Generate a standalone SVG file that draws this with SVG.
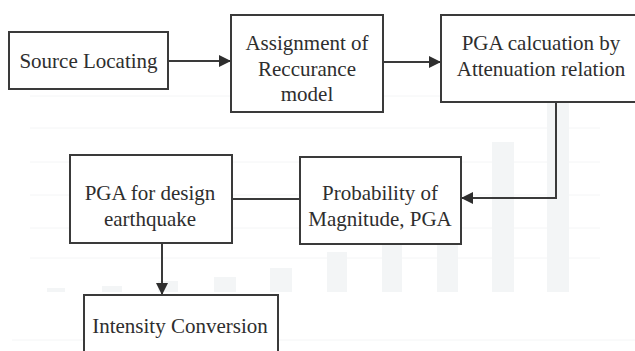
<svg xmlns="http://www.w3.org/2000/svg" width="635" height="351" viewBox="0 0 635 351">
<style>
.box{fill:#ffffff;stroke:#3a3a3a;stroke-width:2}
.t{font-size:21px;fill:#2e2e2e;text-anchor:middle}
.ln{fill:none;stroke:#3a3a3a;stroke-width:2}
.bar{fill:#f3f5f6}
.grid{stroke:#f4f5f6;stroke-width:1}
</style>
<defs>
<marker id="ah2" viewBox="0 0 12 12" refX="12" refY="6" markerWidth="12" markerHeight="12" orient="auto" markerUnits="userSpaceOnUse">
<path d="M0,0 L12,6 L0,12 Z" fill="#2e2e2e"/>
</marker>
</defs>
<rect width="635" height="351" fill="#ffffff"/>
<g id="background">
<line class="grid" x1="30" y1="96" x2="600" y2="96"/>
<line class="grid" x1="30" y1="128" x2="600" y2="128"/>
<line class="grid" x1="30" y1="162" x2="600" y2="162"/>
<line class="grid" x1="30" y1="195" x2="600" y2="195"/>
<line class="grid" x1="30" y1="228" x2="600" y2="228"/>
<line class="grid" x1="30" y1="258" x2="600" y2="258"/>
<line class="grid" x1="12" y1="340" x2="635" y2="340"/>
<rect class="bar" x="47" y="288" width="18" height="4"/>
<rect class="bar" x="102" y="286" width="20" height="6"/>
<rect class="bar" x="158" y="281" width="20" height="11"/>
<rect class="bar" x="214" y="277" width="22" height="15"/>
<rect class="bar" x="270" y="268" width="22" height="24"/>
<rect class="bar" x="327" y="252" width="20" height="40"/>
<rect class="bar" x="382" y="232" width="20" height="60"/>
<rect class="bar" x="437" y="200" width="21" height="92"/>
<rect class="bar" x="492" y="142" width="22" height="150"/>
<rect class="bar" x="547" y="80" width="22" height="212"/>
</g>
<g id="connectors">
<line class="ln" x1="168" y1="61" x2="231" y2="61" marker-end="url(#ah2)"/>
<line class="ln" x1="383" y1="62" x2="441" y2="62" marker-end="url(#ah2)"/>
<polyline class="ln" points="556,102 556,198 461,198" marker-end="url(#ah2)"/>
<line class="ln" x1="232" y1="199" x2="300" y2="199"/>
<line class="ln" x1="162" y1="243" x2="162" y2="295" marker-end="url(#ah2)"/>
</g>
<g font-family="'Liberation Serif', 'Times New Roman', 'DejaVu Serif', serif">
<g id="source-locating">
<rect class="box" x="9" y="32" width="159" height="57"/>
<text class="t" x="88.5" y="68">Source Locating</text>
</g>
<g id="assignment">
<rect class="box" x="231" y="15" width="152" height="97"/>
<text class="t" x="307" y="50">Assignment of</text>
<text class="t" x="307" y="76">Reccurance</text>
<text class="t" x="307" y="101">model</text>
</g>
<g id="pga-calculation">
<rect class="box" x="441" y="15" width="200" height="87"/>
<text class="t" x="541" y="50">PGA calcuation by</text>
<text class="t" x="541" y="76">Attenuation relation</text>
</g>
<g id="probability">
<rect class="box" x="300" y="157" width="161" height="87"/>
<text class="t" x="380" y="200">Probability of</text>
<text class="t" x="380" y="226">Magnitude, PGA</text>
</g>
<g id="pga-design">
<rect class="box" x="70" y="155" width="162" height="88"/>
<text class="t" x="150" y="200">PGA for design</text>
<text class="t" x="150" y="226">earthquake</text>
</g>
<g id="intensity">
<rect class="box" x="84" y="295" width="194" height="60"/>
<text class="t" x="180" y="333">Intensity Conversion</text>
</g>
</g>
</svg>
